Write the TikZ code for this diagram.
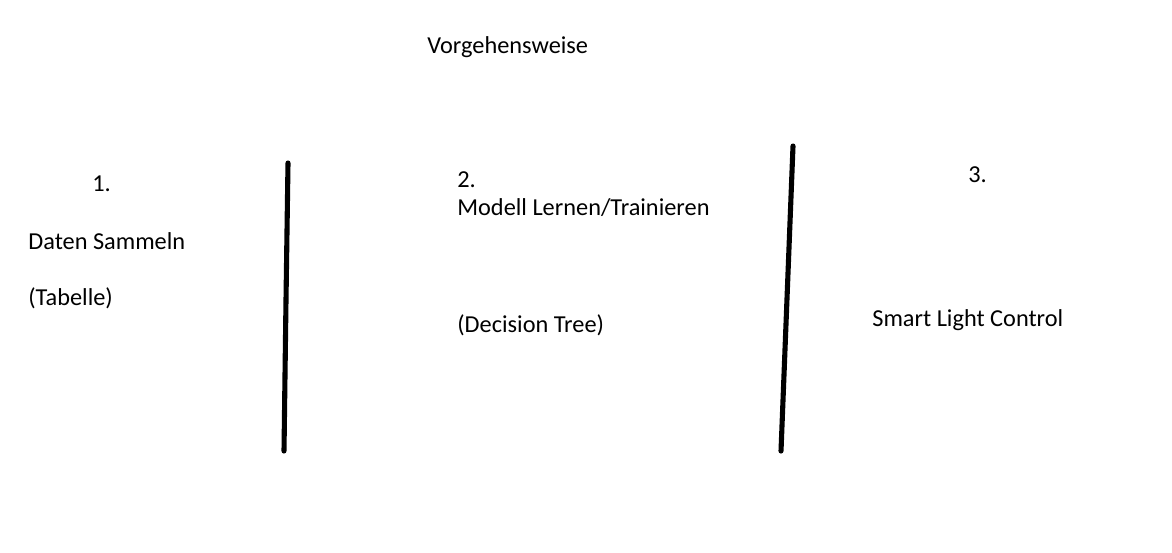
\documentclass[tikz,border=0pt]{standalone}
\usepackage{fontspec}
\setmainfont{Carlito}
\usepackage{tikz}
\usetikzlibrary{positioning}

\begin{document}
\begin{tikzpicture}[x=0.02cm,y=-0.02cm,
      text node/.style={anchor=west,inner sep=0pt,font=\fontsize{13.85pt}{16pt}\selectfont},
      divider/.style={line width=2.9pt,line cap=round,line join=round}]

    \useasboundingbox[fill=white] (0,0) rectangle (1172,552);

    \node[text node] (title) at (427,47) {Vorgehensweise};

    \node[text node] (n1) at (92,184) {1.};
    \node[text node] (daten) at (28,241) {Daten Sammeln};
    \node[text node] (tabelle) at (28,298) {(Tabelle)};

    \node[text node] (n2) at (457,180) {2.};
    \node[text node] (modell) at (457,208) {Modell Lernen/Trainieren};
    \node[text node] (tree) at (457,325) {(Decision Tree)};

    \node[text node] (n3) at (968,175) {3.};
    \node[text node] (smart) at (872,320) {Smart Light Control};

    % trennlinien
    \draw[divider] (288,163) -- (286,300) -- (284,451);
    \draw[divider] (793,146) -- (781,451);
\end{tikzpicture}
\end{document}
